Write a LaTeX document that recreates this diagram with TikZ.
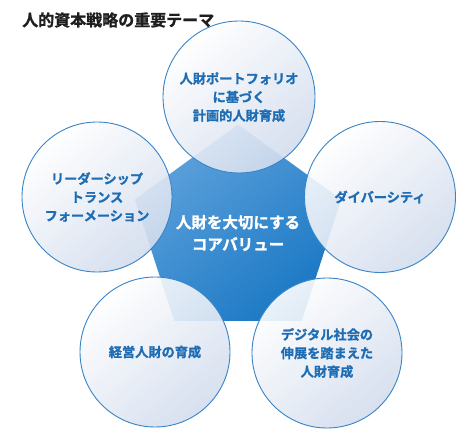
\documentclass[tikz,border=0pt]{standalone}
\usepackage{fontspec}
\setmainfont{Noto Sans CJK JP}[BoldFont={Noto Sans CJK JP Bold}, BoldFeatures={FakeBold=1.2}]
\usetikzlibrary{shapes.geometric}
\definecolor{ringblue}{HTML}{3A84C6}
\definecolor{txtblue}{HTML}{1E6DB4}
\definecolor{circfill}{HTML}{D3DDEE}
\definecolor{pentlight}{HTML}{5FA2DC}
\definecolor{pentdark}{HTML}{1A78C4}
\definecolor{titlegray}{HTML}{1E1E1E}
\tikzset{
  theme/.style={circle, minimum size=#1, inner sep=0pt, draw=ringblue, line width=0.9pt,
    top color=white, bottom color=circfill, shading angle=40,
    fill opacity=0.9, draw opacity=1, text opacity=1, text=txtblue, align=center,
    font=\bfseries\fontsize{13.2}{18.5}\selectfont},
  core/.style={regular polygon, regular polygon sides=5, minimum size=210pt, inner sep=0pt,
    top color=pentlight, bottom color=pentdark, shading angle=40,
    text=white, align=center, font=\bfseries\fontsize{15.5}{22}\selectfont},
  heading/.style={anchor=west, inner sep=0pt, text=titlegray, font=\bfseries\fontsize{16}{18}\selectfont}
}
\begin{document}
\begin{tikzpicture}[x=1pt,y=-1pt]
\useasboundingbox (0,0) rectangle (473,446);
\fill[white] (0,0) rectangle (473,446);
\node[heading] (title) at (22,20) {人的資本戦略の重要テーマ};
\node[core] (core) at (238,233) {人財を大切にする\\コアバリュー};
\node[theme=152pt] (top) at (239,97) {人財ポートフォリオ\\に基づく\\計画的人財育成};
\node[theme=150pt] (left) at (97,197) {リーダーシップ\\トランス\\フォーメーション};
\node[theme=151pt] (right) at (380,197) {ダイバーシティ};
\node[theme=150pt] (bl) at (155,352) {経営人財の育成};
\node[theme=150pt] (br) at (327,353) {デジタル社会の\\伸展を踏まえた\\人財育成};
\end{tikzpicture}
\end{document}
